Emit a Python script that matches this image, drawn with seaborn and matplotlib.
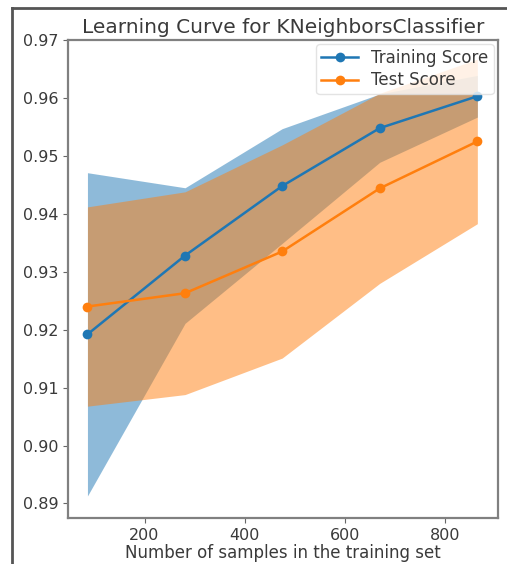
import matplotlib
matplotlib.use("Agg")
import matplotlib.pyplot as plt
from matplotlib.lines import Line2D
import numpy as np
import pandas as pd
import seaborn as sns

# Learning-curve summary for a KNeighborsClassifier
train_sizes = [86, 281, 475, 670, 865]
train_mean = [0.9192, 0.9328, 0.9448, 0.9548, 0.9603]
train_std = [0.0279, 0.0117, 0.0099, 0.0059, 0.0036]
test_mean = [0.9240, 0.9263, 0.9335, 0.9444, 0.9525]
test_std = [0.0172, 0.0175, 0.0184, 0.0164, 0.0142]

x_ticks = [200, 400, 600, 800]
y_ticks = [0.89, 0.90, 0.91, 0.92, 0.93, 0.94, 0.95, 0.96, 0.97]

BLUE = "#1f77b4"
ORANGE = "#ff7f0e"
TEXT = "#3a3a3a"

df = pd.DataFrame({
    "size": train_sizes,
    "train_mean": train_mean,
    "train_std": train_std,
    "test_mean": test_mean,
    "test_std": test_std,
})

fig = plt.figure(figsize=(5.07, 5.64), dpi=100)
ax = fig.add_axes([0.134, 0.0816, 0.848, 0.8474])

sns.lineplot(data=df, x="size", y="train_mean", marker="o", color=BLUE,
             markersize=7, markeredgewidth=0, linewidth=1.8,
             label="Training Score", ax=ax)
ax.fill_between(df["size"], df["train_mean"] - df["train_std"],
                df["train_mean"] + df["train_std"], color=BLUE, alpha=0.5,
                linewidth=0)
sns.lineplot(data=df, x="size", y="test_mean", marker="o", color=ORANGE,
             markersize=7, markeredgewidth=0, linewidth=1.8,
             label="Test Score", ax=ax)
ax.fill_between(df["size"], df["test_mean"] - df["test_std"],
                df["test_mean"] + df["test_std"], color=ORANGE, alpha=0.5,
                linewidth=0)

ax.set_xlim(47, 906)
ax.set_ylim(0.8875, 0.97)
ax.set_xticks(x_ticks)
ax.set_yticks(y_ticks)
ax.set_yticklabels([f"{v:.2f}" for v in y_ticks])
ax.tick_params(colors="#666666", labelcolor=TEXT, labelsize=11.5, length=3.5)
for sp in ax.spines.values():
    sp.set_color("#808080")
    sp.set_linewidth(1.6)

ax.set_title("Learning Curve for KNeighborsClassifier", fontsize=14.5,
             color=TEXT, pad=5)
ax.set_xlabel("Number of samples in the training set", fontsize=12,
              color=TEXT, labelpad=1)
ax.set_ylabel("")

leg = ax.legend(loc="upper right", fontsize=12, framealpha=0.8,
                borderaxespad=0.25, handlelength=2.2, labelspacing=0.25,
                borderpad=0.3)
leg.get_frame().set_edgecolor("#dddddd")
for t in leg.get_texts():
    t.set_color(TEXT)

# screenshot frame on the left and top edges
fig.add_artist(Line2D([12 / 507, 12 / 507], [0, 1 - 8 / 564],
                      transform=fig.transFigure, color="#555555", lw=2))
fig.add_artist(Line2D([12 / 507, 1], [1 - 8 / 564, 1 - 8 / 564],
                      transform=fig.transFigure, color="#555555", lw=2))

fig.savefig("out.png", dpi=100, facecolor="white")
